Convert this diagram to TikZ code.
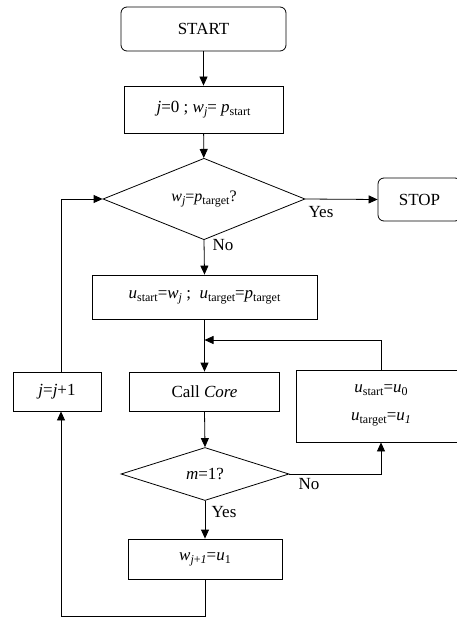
\documentclass[tikz,border=0pt]{standalone}
\usepackage{fontspec}
\setmainfont{Liberation Serif}
\usetikzlibrary{shapes.geometric,arrows.meta}
\newcommand{\sbs}[1]{\raisebox{-3pt}{\fontsize{12}{12}\selectfont #1}}
\newcommand{\iv}[1]{\textit{#1}}
\begin{document}
\begin{tikzpicture}[x=1pt,y=-1pt,
  font=\fontsize{17}{20}\selectfont,
  every path/.style={line width=0.8pt},
  rect/.style={draw, line width=0.8pt, inner sep=0pt},
  term/.style={rect, rounded corners=6pt},
  dec/.style={draw, line width=0.8pt, diamond, inner sep=0pt},
  arr/.style={-{Triangle[length=9pt,width=8pt]}},
  lbl/.style={inner sep=0pt}]
\useasboundingbox (0,0) rectangle (456,617);
% nodes
\node[term, minimum width=165pt, minimum height=44pt] (start) at (203.5,29) {START};
\node[rect, minimum width=159pt, minimum height=47pt] (init) at (203.5,109.5)
  {\iv{j}=0 ; \iv{w}\sbs{\iv{j}}= \iv{p}\sbs{start}};
\node[dec, minimum width=202pt, minimum height=68pt] (d1) at (204,199)
  {\fontsize{16}{18}\selectfont\iv{w}\sbs{\iv{j}}=\iv{p}\sbs{target}?};
\node[term, minimum width=83pt, minimum height=43pt] (stop) at (419.5,199.5) {STOP};
\node[rect, minimum width=225pt, minimum height=44pt] (set) at (204.5,297)
  {\iv{u}\sbs{start}=\iv{w}\sbs{\iv{j}} ;\ \ \iv{u}\sbs{target}=\iv{p}\sbs{target}};
\node[rect, minimum width=88pt, minimum height=39pt] (inc) at (57,391.5) {\iv{j}=\iv{j}+1};
\node[rect, minimum width=150pt, minimum height=39pt] (core) at (204.5,391.5) {Call \iv{Core}};
\node[rect, minimum width=170pt, minimum height=72pt] (upd) at (381,406) {};
\node[lbl] (upd1) at (381,390) {\iv{u}\sbs{start}=\iv{u}\sbs{0}};
\node[lbl] (upd2) at (381,419) {\iv{u}\sbs{target}=\iv{u}\sbs{\iv{1}}};
\node[dec, minimum width=168pt, minimum height=53pt] (d2) at (205,474) {\iv{m}=1?};
\node[rect, minimum width=154pt, minimum height=40pt] (wset) at (205,559)
  {\iv{w}\sbs{\iv{j}+\iv{1}}=\iv{u}\sbs{1}};
% labels
\node[lbl] (yes1) at (321,212) {Yes};
\node[lbl] (no1) at (223,245) {No};
\node[lbl] (no2) at (309,484) {No};
\node[lbl] (yes2) at (224,512) {Yes};
% helper coordinates
\coordinate (merge) at (204.5,340);
\coordinate (bl) at (61,616);
\coordinate (br) at (205,616);
\coordinate (tl) at (61,199);
% connectors
\draw[arr] (start) -- (init);
\draw[arr] (init) -- (d1);
\draw[arr] (d1.east) -- (stop.west);
\draw[arr] (d1.south) -- (set.north);
\draw[arr] (set.south) -- (core.north);
\draw[arr] (upd.north) |- (merge);
\draw[arr] (core.south) -- (d2.north);
\draw[arr] (d2.east) -| (upd.south);
\draw[arr] (d2.south) -- (wset.north);
\draw[arr] (wset.south) -- (br) -- (bl) -- (inc.south -| bl);
\draw[arr] (inc.north -| tl) -- (tl) -- (d1.west);
\end{tikzpicture}
\end{document}
